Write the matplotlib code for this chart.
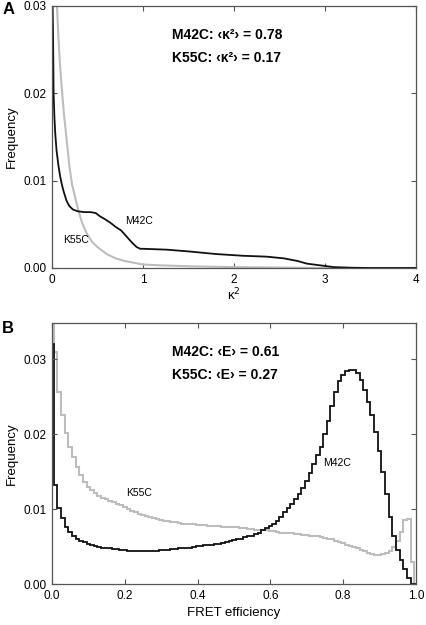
import numpy as np
import matplotlib
matplotlib.use('Agg')
from matplotlib import pyplot as plt

plt.rcParams['font.family'] = ['Liberation Sans', 'DejaVu Sans']

# panel A: kappa^2 distributions
kappa_m42c = [0.0, 0.005, 0.011, 0.018, 0.027, 0.036, 0.05, 0.07, 0.09, 0.11, 0.13,
              0.16, 0.19, 0.23, 0.28, 0.35, 0.42, 0.48, 0.53, 0.58, 0.64, 0.70,
              0.76, 0.82, 0.88, 0.93, 0.97, 1.0, 1.26, 1.5, 1.8, 2.1, 2.36, 2.55,
              2.7, 2.8, 2.95, 3.1, 3.3, 3.5, 4.0]
freq_m42c_a = [0.036, 0.031, 0.0275, 0.020, 0.0172, 0.0154, 0.0135, 0.0118, 0.0105,
               0.0095, 0.0087, 0.0077, 0.0071, 0.0067, 0.0065, 0.0064, 0.0064,
               0.0063, 0.0059, 0.0056, 0.0052, 0.0047, 0.0043, 0.0036, 0.0029,
               0.0024, 0.0022, 0.0022, 0.0021, 0.0019, 0.0016, 0.0014, 0.0013,
               0.0011, 0.0008, 0.0005, 0.0003, 0.0001, 0.00003, 0.0, 0.0]
kappa_k55c = [0.04, 0.055, 0.07, 0.09, 0.11, 0.13, 0.16, 0.19, 0.22, 0.25, 0.29, 0.33,
              0.38, 0.44, 0.5, 0.6, 0.7, 0.8, 0.9, 1.0, 1.2, 1.5, 2.0, 2.5, 3.0, 4.0]
freq_k55c_a = [0.034, 0.030, 0.0265, 0.023, 0.0203, 0.0178, 0.0148, 0.0118, 0.0096,
               0.0083, 0.0066, 0.0052, 0.0040, 0.0030, 0.0024, 0.0016, 0.0011,
               0.0008, 0.0006, 0.0004, 0.0003, 0.0002, 0.0001, 0.00005, 0.0, 0.0]

# panel B: FRET efficiency histograms, bins centred at 0.00 ... 1.00
fret_centers = np.arange(101) / 100
freq_m42c_b = [
    0.0320, 0.0132, 0.0102, 0.0088, 0.0077, 0.0070, 0.0065, 0.0061, 0.0058, 0.0056,
    0.0054, 0.0052, 0.0051, 0.0050, 0.0049, 0.0048, 0.0048, 0.0047, 0.0047, 0.0046,
    0.0046, 0.0045, 0.0045, 0.0045, 0.0045, 0.0045, 0.0045, 0.0045, 0.0045, 0.0045,
    0.0046, 0.0046, 0.0046, 0.0047, 0.0047, 0.0048, 0.0048, 0.0049, 0.0049, 0.0050,
    0.0051, 0.0051, 0.0052, 0.0053, 0.0053, 0.0054, 0.0054, 0.0055, 0.0056, 0.0058,
    0.0059, 0.0060, 0.0061, 0.0063, 0.0064, 0.0065, 0.0067, 0.0069, 0.0072, 0.0075,
    0.0078, 0.0081, 0.0085, 0.0090, 0.0096, 0.0101, 0.0107, 0.0113, 0.0120, 0.0128,
    0.0137, 0.0148, 0.0160, 0.0172, 0.0183, 0.0200, 0.0218, 0.0237, 0.0256, 0.0271,
    0.0279, 0.0284, 0.0286, 0.0285, 0.0281, 0.0272, 0.0259, 0.0243, 0.0225, 0.0203,
    0.0178, 0.0150, 0.0120, 0.0090, 0.0065, 0.0046, 0.0032, 0.0021, 0.0009, 0.0000,
    0.0000]
freq_k55c_b = [
    0.0400, 0.0310, 0.0256, 0.0225, 0.0202, 0.0183, 0.0170, 0.0156, 0.0145, 0.0136,
    0.0130, 0.0125, 0.0121, 0.0118, 0.0115, 0.0113, 0.0111, 0.0109, 0.0107, 0.0105,
    0.0103, 0.0100, 0.0098, 0.0096, 0.0094, 0.0092, 0.0091, 0.0090, 0.0088, 0.0087,
    0.0086, 0.0085, 0.0084, 0.0083, 0.0083, 0.0082, 0.0081, 0.0081, 0.0080, 0.0080,
    0.0079, 0.0079, 0.0079, 0.0078, 0.0078, 0.0078, 0.0078, 0.0077, 0.0077, 0.0077,
    0.0076, 0.0076, 0.0075, 0.0075, 0.0074, 0.0074, 0.0073, 0.0073, 0.0072, 0.0072,
    0.0071, 0.0071, 0.0070, 0.0069, 0.0069, 0.0068, 0.0068, 0.0067, 0.0067, 0.0066,
    0.0066, 0.0065, 0.0064, 0.0064, 0.0063, 0.0062, 0.0061, 0.0060, 0.0058, 0.0057,
    0.0055, 0.0053, 0.0051, 0.0050, 0.0048, 0.0046, 0.0044, 0.0042, 0.0040, 0.0039,
    0.0039, 0.0040, 0.0042, 0.0045, 0.0050, 0.0058, 0.0070, 0.0086, 0.0087, 0.0030,
    0.0000]

BLACK = '#111111'
GRAY = '#bdbdbd'
SPINE = '#555555'


def style_axes(ax):
    for s in ax.spines.values():
        s.set_color(SPINE)
        s.set_linewidth(0.9)
    ax.tick_params(direction='in', length=3.5, width=0.8, color=SPINE,
                   top=True, right=True, labelsize=8.5, pad=4)
    ax.set_ylabel('Frequency', fontsize=9.5, labelpad=4)


fig = plt.figure(figsize=(4.26, 6.25), dpi=100)

# ---- panel A
ax1 = fig.add_axes([0.122, 0.5712, 0.8545, 0.4192])
ax1.plot(kappa_k55c, freq_k55c_a, color=GRAY, lw=1.5)
ax1.plot(kappa_m42c, freq_m42c_a, color=BLACK, lw=1.3)
ax1.set_xlim(0, 4)
ax1.set_ylim(0, 0.03)
ax1.set_xticks([0, 1, 2, 3, 4])
ax1.set_yticks([0, 0.01, 0.02, 0.03])
ax1.set_yticklabels(['0.00', '0.01', '0.02', '0.03'])
style_axes(ax1)
ax1.set_xlabel('κ$^2$', fontsize=9.5, labelpad=1)
ax1.text(0.805, 0.0050, 'M42C', fontsize=7.5)
ax1.text(0.125, 0.0029, 'K55C', fontsize=7.5)
ax1.text(0.33, 0.89, 'M42C: ‹κ²› = 0.78', transform=ax1.transAxes,
         fontsize=10, fontweight='bold', va='center')
ax1.text(0.33, 0.80, 'K55C: ‹κ²› = 0.17', transform=ax1.transAxes,
         fontsize=10, fontweight='bold', va='center')
fig.text(0.005, 0.985, 'A', fontsize=12, fontweight='bold', va='center')

# ---- panel B
ax2 = fig.add_axes([0.122, 0.0651, 0.8545, 0.418])
edges = np.append(fret_centers - 0.005, 1.005)
ax2.stairs(freq_k55c_b, edges, color=GRAY, lw=1.5, baseline=None)
ax2.stairs(freq_m42c_b, edges, color=BLACK, lw=1.3, baseline=None)
ax2.set_xlim(0, 1)
ax2.set_ylim(0, 0.0348)
ax2.set_xticks([0, 0.2, 0.4, 0.6, 0.8, 1.0])
ax2.set_xticklabels(['0.0', '0.2', '0.4', '0.6', '0.8', '1.0'])
ax2.set_yticks([0, 0.01, 0.02, 0.03])
ax2.set_yticklabels(['0.00', '0.01', '0.02', '0.03'])
style_axes(ax2)
ax2.set_xlabel('FRET efficiency', fontsize=9.5, labelpad=4)
ax2.text(0.205, 0.0121, 'K55C', fontsize=7.5, va='center')
ax2.text(0.746, 0.0162, 'M42C', fontsize=7.5, va='center')
ax2.text(0.33, 0.89, 'M42C: ‹E› = 0.61', transform=ax2.transAxes,
         fontsize=10, fontweight='bold', va='center')
ax2.text(0.33, 0.80, 'K55C: ‹E› = 0.27', transform=ax2.transAxes,
         fontsize=10, fontweight='bold', va='center')
fig.text(0.005, 0.475, 'B', fontsize=12, fontweight='bold', va='center')

fig.savefig('out.png', dpi=100)
